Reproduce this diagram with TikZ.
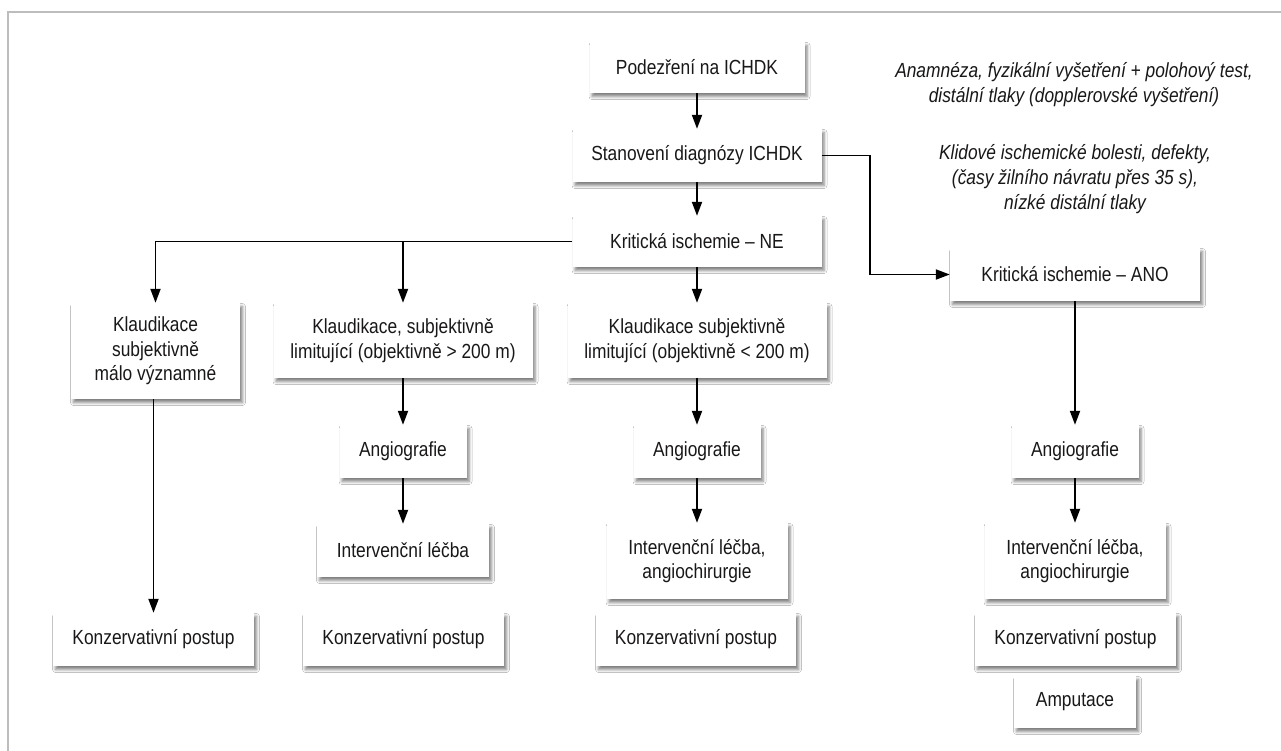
\documentclass[tikz,border=0pt]{standalone}
\usepackage{fontspec}
\setmainfont{Liberation Sans}[FakeStretch=0.85]
\usetikzlibrary{arrows.meta,shadows.blur}
\definecolor{txt}{HTML}{1A1718}
\definecolor{framec}{HTML}{BDBDBD}
\tikzset{
  box/.style={fill=white, inner sep=0pt, align=center,
    font=\fontsize{20.5}{24.5}\selectfont, text=txt,
    blur shadow={shadow xshift=2.5bp, shadow yshift=-3.5bp, shadow blur radius=3bp, shadow opacity=50}},
  arr/.style={line width=1.9bp, draw=black, -{Triangle[length=14bp,width=10bp]}},
  note/.style={font=\itshape\fontsize{20.5}{25}\selectfont, align=center, text=txt}
}
\begin{document}
\begin{tikzpicture}[x=1bp,y=-1bp]
\useasboundingbox (0,0) rectangle (1281,751);
\fill[white] (0,0) rectangle (1281,751);
\draw[framec, line width=1.3bp] (8,751) -- (8,12) -- (1281,12);

% centre column
\node[box, minimum width=215bp, minimum height=51bp] (p1) at (697,67.5) {Podezření na ICHDK};
\node[box, minimum width=249bp, minimum height=53bp] (p2) at (697,155.5) {Stanovení diagnózy ICHDK};
\node[box, minimum width=249bp, minimum height=51bp] (ne) at (697,241.5) {Kritická ischemie – NE};
\node[box, minimum width=250bp, minimum height=53bp] (ano) at (1075,274.5) {Kritická ischemie – ANO};

% notes
\node[note] (n1) at (1074,85) {Anamnéza, fyzikální vyšetření + polohový test,\\distální tlaky (dopplerovské vyšetření)};
\node[note] (n2) at (1075,179) {Klidové ischemické bolesti, defekty,\\(časy žilního návratu přes 35 s),\\nízké distální tlaky};

% claudication row
\node[box, minimum width=169bp, minimum height=96bp] (k1) at (155.5,351) {Klaudikace\\subjektivně\\málo významné};
\node[box, minimum width=259bp, minimum height=75bp] (k2) at (403,340.5) {Klaudikace, subjektivně\\limitující (objektivně > 200 m)};
\node[box, minimum width=259bp, minimum height=75bp] (k3) at (697,340.5) {Klaudikace subjektivně\\limitující (objektivně < 200 m)};

% angiography
\node[box, minimum width=127bp, minimum height=53bp] (a2) at (403,451.5) {Angiografie};
\node[box, minimum width=127bp, minimum height=53bp] (a3) at (697,451.5) {Angiografie};
\node[box, minimum width=127bp, minimum height=53bp] (a4) at (1075,451.5) {Angiografie};

% interventions
\node[box, minimum width=172bp, minimum height=53bp] (i2) at (403,550.5) {Intervenční léčba};
\node[box, minimum width=181bp, minimum height=76bp] (i3) at (697,561) {Intervenční léčba,\\angiochirurgie};
\node[box, minimum width=181bp, minimum height=76bp] (i4) at (1075,561) {Intervenční léčba,\\angiochirurgie};

% conservative
\node[box, minimum width=201bp, minimum height=53bp] (c1) at (153.5,639.5) {Konzervativní postup};
\node[box, minimum width=201bp, minimum height=53bp] (c2) at (403.5,639.5) {Konzervativní postup};
\node[box, minimum width=200bp, minimum height=53bp] (c3) at (696,639.5) {Konzervativní postup};
\node[box, minimum width=201bp, minimum height=53bp] (c4) at (1075.5,639.5) {Konzervativní postup};
\node[box, minimum width=122bp, minimum height=52bp] (amp) at (1075,702) {Amputace};

% connectors
\draw[arr] (p1) -- (p2);
\draw[arr] (p2) -- (ne);
\draw[arr] (ne) -- (k3);
\draw[arr] (ne.west) -| (k1.north);
\draw[arr] (k2.north |- ne.west) -- (k2.north);
\draw[arr] (p2.east) -- ++(48,0) |- (ano.west);
\draw[arr] (ano) -- (a4);
\draw[arr] (k1.south -| c1.north) -- (c1.north);
\draw[arr] (k2) -- (a2);
\draw[arr] (a2) -- (i2);
\draw[arr] (k3) -- (a3);
\draw[arr] (a3) -- (i3);
\draw[arr] (a4) -- (i4);
\end{tikzpicture}
\end{document}
